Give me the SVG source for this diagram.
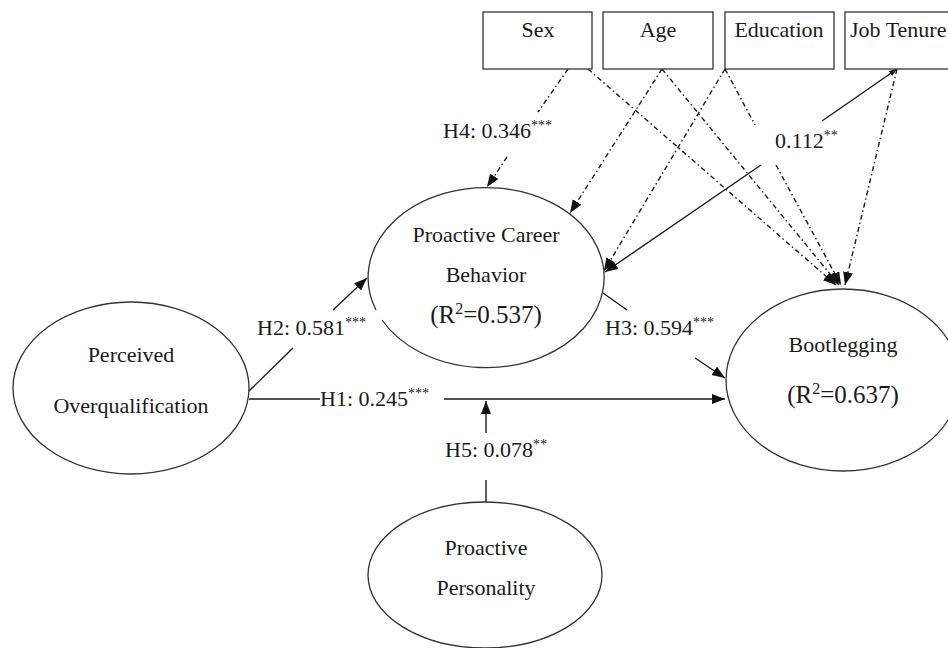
<svg xmlns="http://www.w3.org/2000/svg" width="948" height="648" viewBox="0 0 948 648">
<style>
.n{fill:#fff;stroke:#333;stroke-width:1.3}
.t{font-family:"Liberation Serif","Times New Roman",serif;font-size:22px;fill:#1a1a1a}
.c{text-anchor:middle}
.r{font-size:25px}
.s{font-size:14px}
.ln{fill:none;stroke:#1a1a1a;stroke-width:1.4}
.dd{stroke-dasharray:5 3 1.5 3}
</style>
<defs>
<marker id="ah" markerUnits="userSpaceOnUse" markerWidth="14" markerHeight="12" refX="13" refY="5" orient="auto-start-reverse">
<path d="M0,0 L13,5 L0,10 z" fill="#111"/>
</marker>
<marker id="ahs" markerUnits="userSpaceOnUse" markerWidth="9" markerHeight="8" refX="8" refY="3" orient="auto-start-reverse">
<path d="M0,0 L8,3 L0,6 z" fill="#111"/>
</marker>
</defs>
<rect width="948" height="648" fill="#fff"/>

<g id="connectors">
<!-- H1 -->
<line class="ln" x1="249" y1="399" x2="320" y2="399"/>
<line class="ln" x1="444" y1="399" x2="725" y2="399" marker-end="url(#ah)"/>
<!-- H5 -->
<line class="ln" x1="486" y1="433" x2="486" y2="401" marker-end="url(#ah)"/>
<line class="ln" x1="486" y1="480" x2="486" y2="503"/>
<!-- H2 -->
<line class="ln" x1="249" y1="391" x2="293" y2="348"/>
<line class="ln" x1="333" y1="310" x2="367" y2="278" marker-end="url(#ah)"/>
<!-- H3 -->
<line class="ln" x1="603" y1="293" x2="627" y2="310"/>
<line class="ln" x1="695" y1="358" x2="725" y2="378" marker-end="url(#ah)"/>
<!-- H4 Sex -> PCB -->
<line class="ln dd" x1="568" y1="69" x2="538" y2="112"/>
<line class="ln dd" x1="507" y1="157" x2="487" y2="187" marker-end="url(#ah)"/>
<!-- Sex -> Bootlegging -->
<line class="ln dd" x1="588" y1="69" x2="836" y2="285" marker-end="url(#ah)"/>
<!-- Age -> PCB -->
<line class="ln dd" x1="662" y1="69" x2="570" y2="213" marker-end="url(#ah)"/>
<!-- Age -> Bootlegging -->
<line class="ln dd" x1="662" y1="69" x2="839" y2="285" marker-end="url(#ah)"/>
<!-- Education -> PCB -->
<line class="ln dd" x1="725" y1="69" x2="604" y2="271" marker-end="url(#ah)"/>
<!-- Education -> Bootlegging -->
<line class="ln dd" x1="725" y1="69" x2="755" y2="125"/>
<line class="ln dd" x1="776" y1="165" x2="841" y2="285" marker-end="url(#ah)"/>
<!-- Job Tenure solid -->
<line class="ln" x1="897" y1="69" x2="822" y2="121" marker-start="url(#ahs)"/>
<line class="ln" x1="761" y1="165" x2="605" y2="272" marker-end="url(#ah)"/>
<!-- Job Tenure -> Bootlegging -->
<line class="ln dd" x1="897" y1="69" x2="845" y2="285" marker-end="url(#ah)"/>
</g>

<g id="labels">
<text class="t" x="443" y="138">H4: 0.346<tspan class="s" dy="-8">***</tspan></text>
<text class="t" x="775" y="148">0.112<tspan class="s" dy="-8">**</tspan></text>
<text class="t" x="257" y="335">H2: 0.581<tspan class="s" dy="-8">***</tspan></text>
<text class="t" x="605" y="335">H3: 0.594<tspan class="s" dy="-8">***</tspan></text>
<text class="t" x="320" y="406">H1: 0.245<tspan class="s" dy="-8">***</tspan></text>
<text class="t" x="445" y="457">H5: 0.078<tspan class="s" dy="-8">**</tspan></text>
</g>

<g id="sex">
<rect class="n" x="483" y="12" width="109" height="57"/>
<text class="t c" x="538" y="37">Sex</text>
</g>
<g id="age">
<rect class="n" x="603" y="12" width="110" height="57"/>
<text class="t c" x="658" y="37">Age</text>
</g>
<g id="education">
<rect class="n" x="725" y="12" width="109" height="57"/>
<text class="t c" x="779" y="37">Education</text>
</g>
<g id="job-tenure">
<rect class="n" x="845" y="12" width="120" height="57"/>
<text class="t" x="850" y="37">Job Tenure</text>
</g>

<g id="perceived-overqualification">
<ellipse class="n" cx="131" cy="388" rx="118" ry="86"/>
<text class="t c" x="131" y="362">Perceived</text>
<text class="t c" x="131" y="413">Overqualification</text>
</g>

<g id="proactive-career-behavior">
<path class="n" style="fill:none" d="M376,310 A118,90 0 1 1 382,320"/>
<text class="t c" x="486" y="242">Proactive Career</text>
<text class="t c" x="486" y="282">Behavior</text>
<text class="t c r" x="486" y="323">(R<tspan font-size="16" dy="-9">2</tspan><tspan dy="9">=0.537)</tspan></text>
</g>

<g id="bootlegging">
<ellipse class="n" cx="843" cy="380" rx="117" ry="91" style="fill:none"/>
<text class="t c" x="843" y="352">Bootlegging</text>
<text class="t c r" x="843" y="403">(R<tspan font-size="16" dy="-9">2</tspan><tspan dy="9">=0.637)</tspan></text>
</g>

<g id="proactive-personality">
<ellipse class="n" cx="485" cy="575" rx="117" ry="73"/>
<text class="t c" x="486" y="555">Proactive</text>
<text class="t c" x="486" y="595">Personality</text>
</g>
</svg>
